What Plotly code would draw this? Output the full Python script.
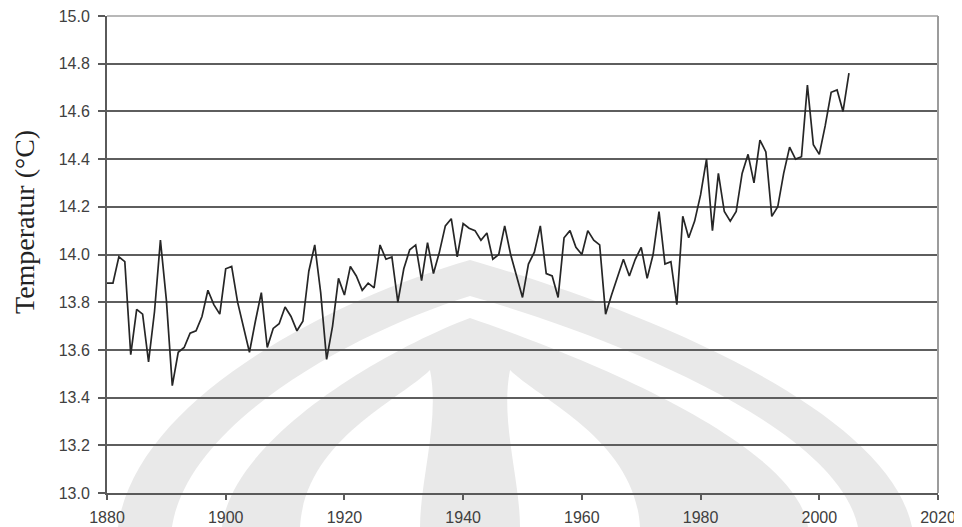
import plotly.graph_objects as go

years = list(range(1880, 2006))
temps = [
    13.88, 13.88, 13.99, 13.97, 13.58, 13.77, 13.75, 13.55, 13.76, 14.06,  # 1880-1889
    13.81, 13.45, 13.59, 13.61, 13.67, 13.68, 13.74, 13.85, 13.79, 13.75,  # 1890-1899
    13.94, 13.95, 13.80, 13.70, 13.59, 13.72, 13.84, 13.61, 13.69, 13.71,  # 1900-1909
    13.78, 13.74, 13.68, 13.72, 13.93, 14.04, 13.84, 13.56, 13.70, 13.90,  # 1910-1919
    13.83, 13.95, 13.91, 13.85, 13.88, 13.86, 14.04, 13.98, 13.99, 13.80,  # 1920-1929
    13.94, 14.02, 14.04, 13.89, 14.05, 13.92, 14.01, 14.12, 14.15, 13.99,  # 1930-1939
    14.13, 14.11, 14.10, 14.06, 14.09, 13.98, 14.00, 14.12, 14.00, 13.91,  # 1940-1949
    13.82, 13.96, 14.01, 14.12, 13.92, 13.91, 13.82, 14.07, 14.10, 14.03,  # 1950-1959
    14.00, 14.10, 14.06, 14.04, 13.75, 13.83, 13.91, 13.98, 13.91, 13.98,  # 1960-1969
    14.03, 13.90, 14.00, 14.18, 13.96, 13.97, 13.79, 14.16, 14.07, 14.14,  # 1970-1979
    14.25, 14.40, 14.10, 14.34, 14.18, 14.14, 14.18, 14.34, 14.42, 14.30,  # 1980-1989
    14.48, 14.43, 14.16, 14.20, 14.34, 14.45, 14.40, 14.41, 14.71, 14.46,  # 1990-1999
    14.42, 14.54, 14.68, 14.69, 14.60, 14.76,                              # 2000-2005
]
x_ticks = [1880, 1900, 1920, 1940, 1960, 1980, 2000, 2020]
y_ticks = [13.0, 13.2, 13.4, 13.6, 13.8, 14.0, 14.2, 14.4, 14.6, 14.8, 15.0]
y_title = "Temperatur (°C)"

# the page adds an 8px body margin, so the figure is offset by 8px on screen
OFF = 8
SCR_W, SCR_H = 962, 527
# plot area in screen pixels
PX0, PX1, PY0, PY1 = 107, 938, 16, 493
W, H = SCR_W - OFF, SCR_H - OFF
ML, MT = PX0 - OFF, PY0 - OFF
PW, PH = PX1 - PX0, PY1 - PY0
MR, MB = W - ML - PW, H - MT - PH


def sx(x):
    return (x - PX0) / PW


def sy(y):
    return (PY1 - y) / PH


def px_path(cmds):
    out = []
    for c in cmds:
        if isinstance(c, str):
            out.append(c)
        else:
            out.append(f"{sx(c[0]):.4f},{sy(c[1]):.4f}")
    return " ".join(out)


fig = go.Figure()

# faint background watermark (approximate dome logo), screen pixel coords
wm_gray = "#e9e9e9"
domes = [
    (["M", (118, 527), "C", (135, 400), (330, 300), (470, 260), "C", (610, 300), (885, 400), (912, 527), "Z"], wm_gray),
    (["M", (172, 527), "C", (188, 420), (360, 330), (470, 296), "C", (590, 330), (835, 420), (858, 527), "Z"], "white"),
    (["M", (222, 527), "C", (232, 440), (380, 352), (470, 318), "C", (570, 352), (795, 440), (808, 527), "Z"], wm_gray),
    (["M", (300, 527), "C", (305, 440), (400, 400), (430, 370), "C", (440, 420), (420, 480), (420, 527), "Z"], "white"),
    (["M", (640, 527), "C", (635, 440), (540, 400), (510, 370), "C", (500, 420), (520, 480), (520, 527), "Z"], "white"),
]
for cmds, col in domes:
    fig.add_shape(type="path", xref="paper", yref="paper", path=px_path(cmds),
                  fillcolor=col, line=dict(width=0), layer="below")

fig.add_trace(go.Scatter(
    x=years, y=temps, mode="lines",
    line=dict(color="#262626", width=1.7),
    hoverinfo="skip", showlegend=False,
))

tick_font = dict(family="Liberation Sans, Arial, sans-serif", size=16, color="#404040")

fig.update_xaxes(
    range=[1880, 2020], tickvals=x_ticks, ticktext=[str(v) for v in x_ticks],
    showgrid=False, zeroline=False, automargin=False, ticklabeloverflow="allow",
    showline=True, linecolor="#5a5a5a", linewidth=2,
    ticks="outside", ticklen=5, tickwidth=1.5, tickcolor="#5a5a5a",
    tickfont=tick_font, ticklabelstandoff=4,
)
fig.update_yaxes(
    range=[13.0, 15.0], tickvals=y_ticks, ticktext=[f"{v:.1f}" for v in y_ticks],
    showgrid=True, gridcolor="#5e5e5e", gridwidth=1.5, zeroline=False,
    automargin=False, ticklabeloverflow="allow",
    showline=True, linecolor="#5a5a5a", linewidth=2,
    ticks="outside", ticklen=7, tickwidth=1.5, tickcolor="#5a5a5a",
    tickfont=tick_font, ticklabelstandoff=5,
)

fig.add_shape(type="line", xref="paper", yref="paper", x0=0, x1=1, y0=1, y1=1,
              line=dict(color="#b8b8b8", width=2), layer="above")
fig.add_shape(type="line", xref="paper", yref="paper", x0=1, x1=1, y0=0, y1=1,
              line=dict(color="#9c9c9c", width=2), layer="above")

fig.add_annotation(
    text=y_title, xref="paper", yref="paper",
    x=sx(24), y=sy(222),
    xanchor="center", yanchor="middle", textangle=-90, showarrow=False,
    font=dict(family="Liberation Serif, Times New Roman, serif", size=28, color="#222222"),
)

fig.update_layout(
    width=W, height=H,
    margin=dict(l=ML, r=MR, t=MT, b=MB, autoexpand=False),
    paper_bgcolor="white", plot_bgcolor="rgba(0,0,0,0)",
    showlegend=False,
)

fig.write_html("out.html")
